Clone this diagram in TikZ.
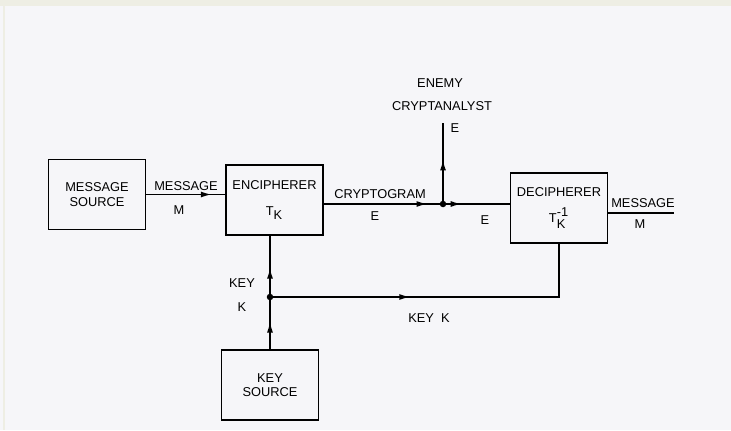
\documentclass[tikz,border=0pt]{standalone}
\usepackage{fontspec}
\setmainfont{Liberation Sans}
\usetikzlibrary{arrows.meta,decorations.markings}
\definecolor{paper}{RGB}{246,246,249}
\definecolor{edge}{RGB}{238,238,228}
\tikzset{
 box/.style={draw, minimum width=1.94cm, minimum height=1.4cm, align=center, inner sep=1pt},
 arr/.style={decoration={markings, mark=at position #1 with {\arrow{Latex[length=2.2mm,width=1.2mm]}}}, postaction={decorate}},
 lbl/.style={inner sep=0pt}
}
\begin{document}
\begin{tikzpicture}[font=\fontsize{7.3}{8.7}\selectfont, line width=0.95pt]
 \fill[paper] (0,0) rectangle (14.62,8.6);
 \fill[edge] (0,8.48) rectangle (14.62,8.6);
 \fill[edge] (0.05,0) rectangle (0.1,8.48);
 % boxes
 \node[box] (source) at (1.94,4.71) {MESSAGE\\SOURCE};
 \node[box] (enc) at (5.49,4.6) {ENCIPHERER\\[6pt]T$_{\textrm{K}}$};
 \node[box] (dec) at (11.18,4.44) {DECIPHERER\\[6pt]T$^{\textrm{-1}}_{\textrm{K}}$};
 \node[box] (keysrc) at (5.4,0.9) {KEY\\[-1pt]SOURCE};
 \coordinate (tap) at (8.86,4.52);
 \coordinate (spy) at (8.86,6.14);
 \coordinate (keyjn) at (5.4,2.66);
 \coordinate (out) at (13.48,4.34);
 % message and cryptogram
 \draw [arr=0.83] (source.east) -- (source.east -| enc.west);
 \draw [arr=0.87] (enc.east |- tap) -- (tap);
 \draw [arr=0.28] (tap) -- (tap -| dec.west);
 \draw [arr=0.55] (tap) -- (spy);
 \draw (dec.east |- out) -- (out);
 \fill (tap) circle (0.065);
 % key
 \draw [arr=0.53] (keysrc.north) -- (keyjn);
 \draw [arr=0.48] (keyjn) -- (keyjn |- enc.south);
 \draw [arr=0.41] (keyjn) -- (keyjn -| dec.south) -- (dec.south);
 \fill (keyjn) circle (0.065);
 % labels
 \node[lbl] (msgin) at (3.72,4.87) {MESSAGE};
 \node[lbl] (msginm) at (3.58,4.4) {M};
 \node[lbl] (crypto) at (7.6,4.72) {CRYPTOGRAM};
 \node[lbl] (cryptoe) at (7.5,4.28) {E};
 \node[lbl] (decine) at (9.7,4.2) {E};
 \node[lbl] (enemy) at (8.8,6.94) {ENEMY};
 \node[lbl] (analyst) at (8.84,6.48) {CRYPTANALYST};
 \node[lbl] (analyste) at (9.1,6.04) {E};
 \node[lbl] (msgout) at (12.86,4.54) {MESSAGE};
 \node[lbl] (msgoutm) at (12.8,4.12) {M};
 \node[lbl] (keyup) at (4.84,2.94) {KEY};
 \node[lbl] (keyupk) at (4.84,2.46) {K};
 \node[lbl] (keyright) at (8.58,2.24) {KEY\ \ K};
\end{tikzpicture}
\end{document}
